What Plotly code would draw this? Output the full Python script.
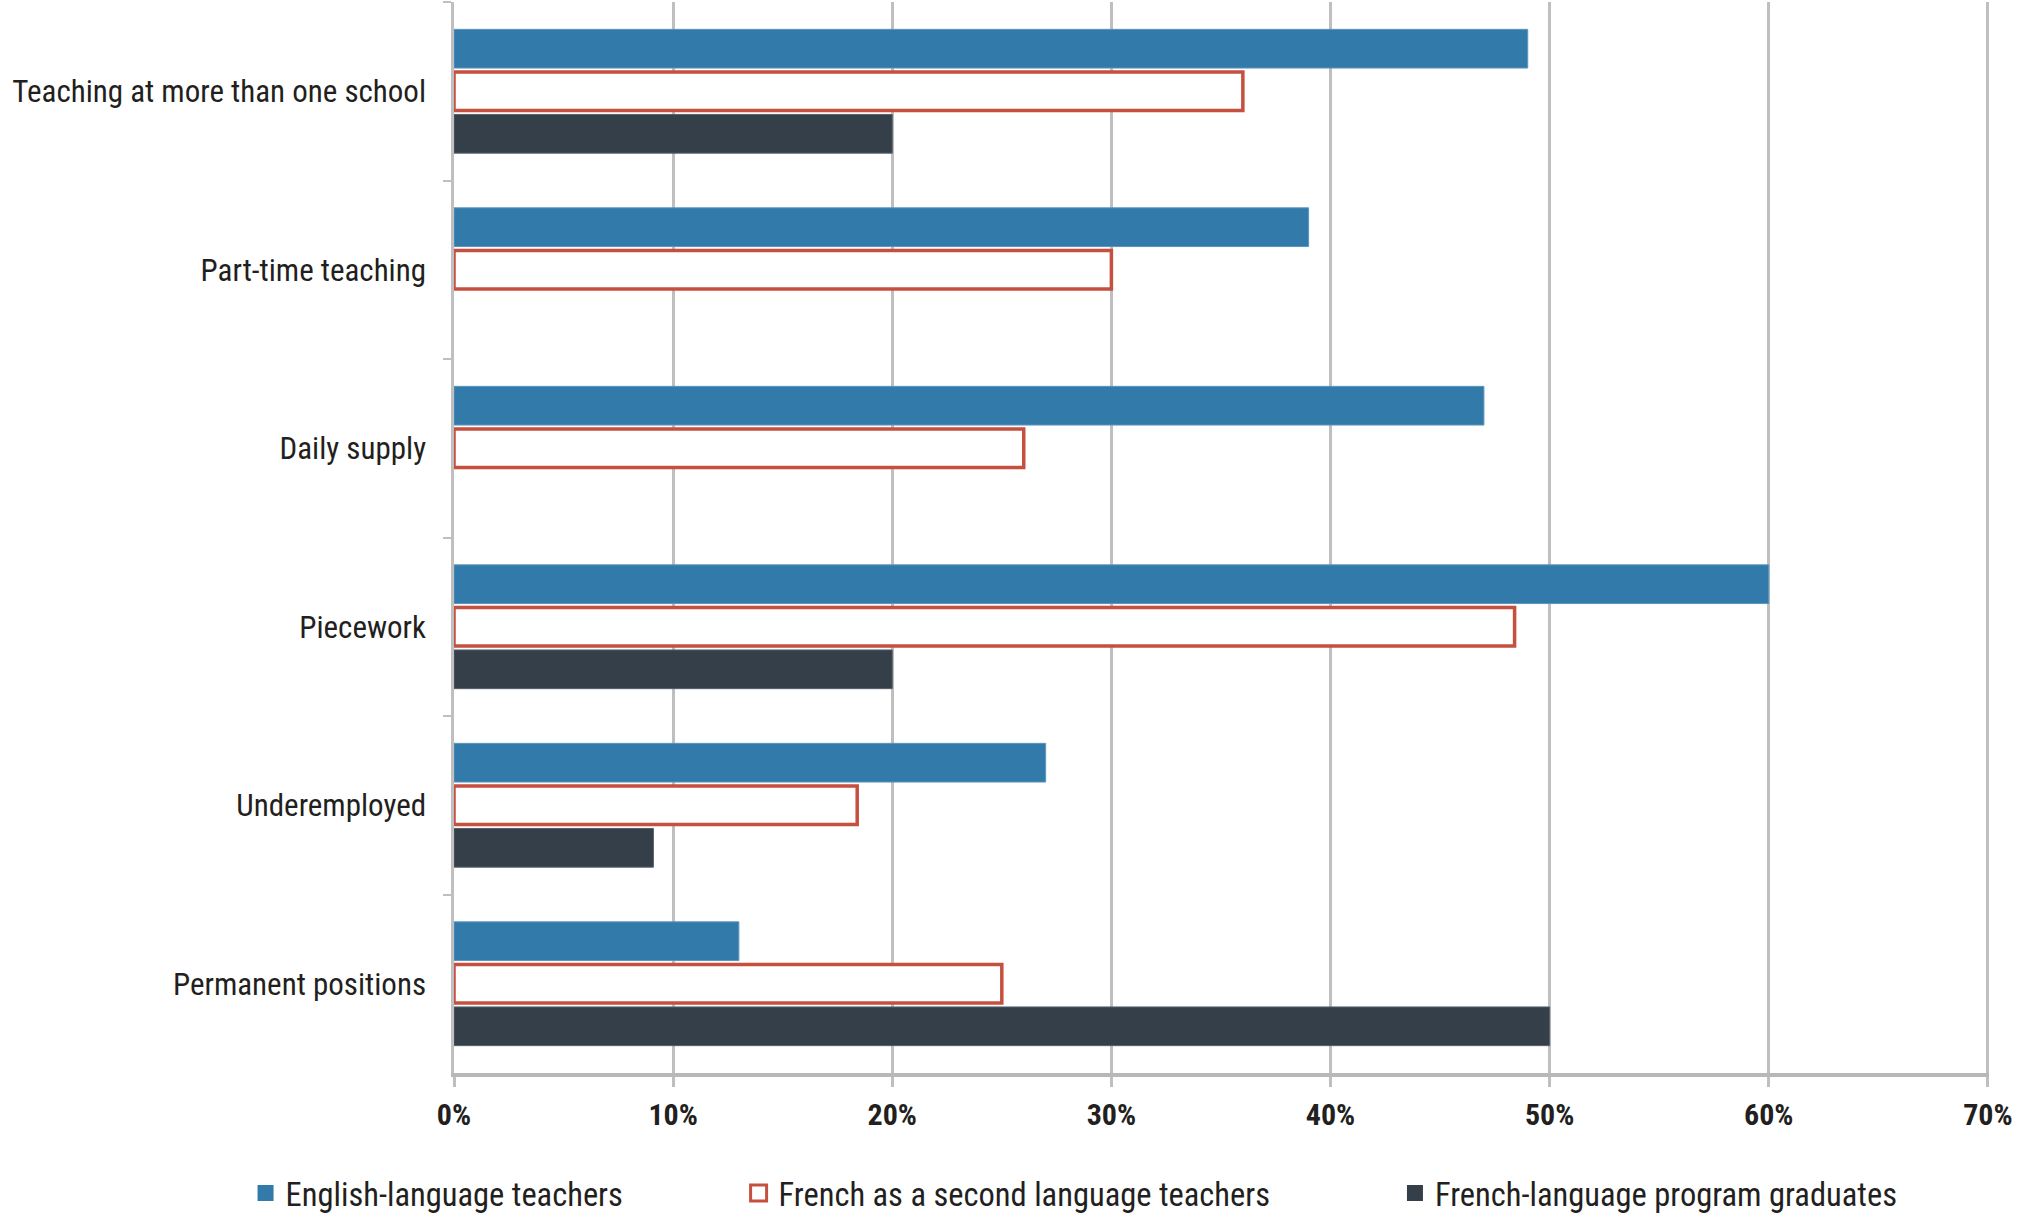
import plotly.graph_objects as go

categories = [
    "Teaching at more than one school",
    "Part-time teaching",
    "Daily supply",
    "Piecework",
    "Underemployed",
    "Permanent positions",
]
series_names = [
    "English-language teachers",
    "French as a second language teachers",
    "French-language program graduates",
]
english = [49, 39, 47, 60, 27, 13]
fsl = [36, 30, 26, 48.4, 18.4, 25]
french_grad = [20, None, None, 20, 9.1, 50]
x_ticks = [0, 10, 20, 30, 40, 50, 60, 70]
x_tick_labels = ["0%", "10%", "20%", "30%", "40%", "50%", "60%", "70%"]

FONT = "Liberation Sans Narrow, Arial Narrow, Roboto Condensed, DejaVu Sans Condensed, Liberation Sans, sans-serif"
TEXT = "#231f20"
GRID = "#bfbfbf"
BLUE = "#327aaa"
RED = "#c5503f"
DARK = "#353f4a"

fig = go.Figure()
fig.add_trace(go.Bar(
    name=series_names[0], y=categories, x=english, orientation="h",
    marker=dict(color=BLUE, line=dict(color="#5d95bd", width=1)),
    showlegend=False,
))
fig.add_trace(go.Bar(
    name=series_names[1], y=categories, x=fsl, orientation="h",
    marker=dict(color="#ffffff", line=dict(color=RED, width=3.5)),
    showlegend=False,
))
fig.add_trace(go.Bar(
    name=series_names[2], y=categories, x=french_grad, orientation="h",
    marker=dict(color=DARK, line=dict(color="#56606b", width=1)),
    showlegend=False,
))

# legend entries (one legend per entry so each can be placed like the original)
legend_markers = [
    dict(symbol="square", size=16, color=BLUE),
    dict(symbol="square-open", size=16, color=RED, line=dict(width=3, color=RED)),
    dict(symbol="square", size=16, color=DARK),
]
legend_ids = ["legend", "legend2", "legend3"]
for name, mk, lg in zip(series_names, legend_markers, legend_ids):
    fig.add_trace(go.Scatter(
        x=[None], y=[None], mode="markers", name=name, marker=mk,
        showlegend=True, legend=lg, hoverinfo="skip",
    ))

W, H = 2021, 1218
L, R, T, B = 454, 32, 2, 145
legend_font = dict(family=FONT, size=32.5, color=TEXT)
legend_common = dict(orientation="h", yanchor="middle", y=-0.1123, xanchor="left",
                     font=legend_font, bgcolor="rgba(0,0,0,0)", itemwidth=30)

fig.update_layout(
    width=W, height=H,
    margin=dict(l=L, r=R, t=T, b=B, autoexpand=False),
    paper_bgcolor="white", plot_bgcolor="white",
    barmode="group", bargap=0.285, bargroupgap=0.09,
    font=dict(family=FONT, color=TEXT, size=32),
    legend=dict(x=-0.1358, **legend_common),
    legend2=dict(x=0.1854, **legend_common),
    legend3=dict(x=0.613, **legend_common),
)
fig.update_xaxes(
    range=[0, 70.05], tickvals=x_ticks, ticktext=x_tick_labels,
    showgrid=True, gridcolor=GRID, gridwidth=2.5,
    showline=True, linecolor="#b8b8b8", linewidth=3.5,
    ticks="outside", ticklen=10, tickwidth=2.5, tickcolor=GRID,
    tickfont=dict(family=FONT, size=30, color=TEXT, weight="bold"),
    ticklabelstandoff=2, ticklabeloverflow="allow", automargin=False,
    zeroline=False, fixedrange=True,
)
fig.update_yaxes(
    autorange="reversed",
    showline=True, linecolor=GRID, linewidth=2.5,
    ticks="outside", tickson="boundaries", ticklen=8, tickwidth=2, tickcolor=GRID,
    tickfont=dict(family=FONT, size=31, color=TEXT),
    ticklabelstandoff=19, automargin=False,
    showgrid=False, fixedrange=True,
)

# the page has no body margin, so the figure sits at the window's top-left corner
fig.write_html(
    "out.html",
    config={"displayModeBar": False},
    post_script="document.body.style.margin='0';",
)
